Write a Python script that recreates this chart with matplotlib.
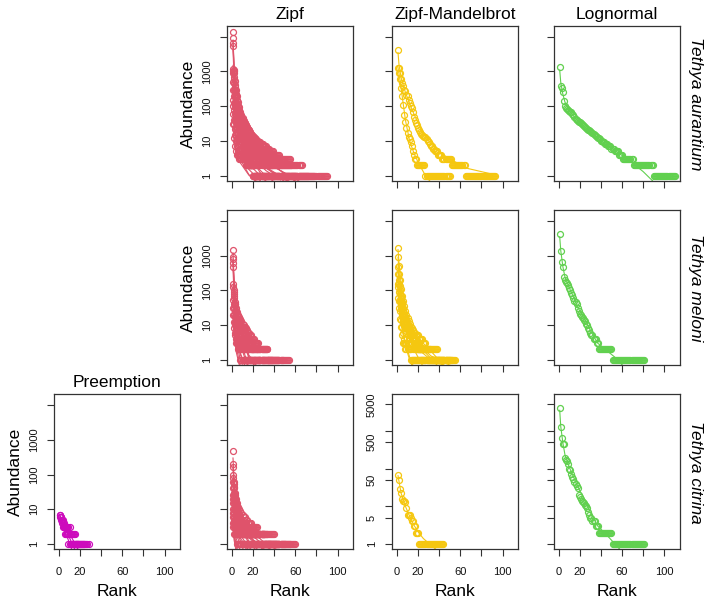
import numpy as np
import matplotlib
matplotlib.use("Agg")
import matplotlib.pyplot as plt
from matplotlib.ticker import NullLocator

plt.rcParams['font.family'] = ['Liberation Sans', 'DejaVu Sans']

# ---------------- data ----------------
MODELS = ["Preemption", "Zipf", "Zipf-Mandelbrot", "Lognormal"]
SPECIES = ["Tethya aurantium", "Tethya meloni", "Tethya citrina"]
COLORS = {"Preemption": "#CD0BBC", "Zipf": "#DF536B",
          "Zipf-Mandelbrot": "#F5C710", "Lognormal": "#61D04F"}

X_TICKS = [0, 20, 40, 60, 80, 100]
X_LABELS = ["0", "20", "", "60", "", "100"]
Y_TICKS_STD = [1, 10, 100, 1000, 10000]
Y_LABELS_STD = ["1", "10", "100", "1000", ""]
Y_TICKS_15 = [1, 5, 10, 50, 100, 500, 1000, 5000]
Y_LABELS_15 = ["1", "5", "", "50", "", "500", "", "5000"]

# Zipf - Tethya aurantium (observed abundances per sample, ranked)
ZIPF_AUR_OBS = [
    [13800, 1100, 520, 300, 190, 130, 95, 70, 55, 45, 38, 32, 28, 25, 22, 20, 18, 16, 15, 14, 13, 12, 11, 10, 10,
     9, 9, 8, 8, 7, 7, 7, 6, 6, 6, 5, 5, 5, 5, 4, 4, 4, 4, 4, 4, 3, 3, 3, 3, 3, 3, 3, 3, 3, 3] + [2] * 11 + [1] * 24,
    [9500, 900, 400, 220, 150, 100, 75, 58, 46, 38, 31, 26, 22, 19, 17, 15, 13, 12, 11, 10, 9, 8, 8, 7, 7, 6, 6,
     5, 5, 5, 4, 4, 4, 4, 3, 3, 3, 3, 3, 3, 3] + [2] * 15 + [1] * 22,
    [6800, 1000, 350, 180, 110, 75, 55, 42, 34, 28, 23, 19, 16, 14, 12, 11, 10, 9, 8, 7, 7, 6, 6, 5, 5, 5, 4, 4,
     4, 3, 3, 3, 3, 3] + [2] * 12 + [1] * 20,
    [5500, 700, 250, 130, 80, 55, 40, 30, 25, 20, 16, 13, 11, 10, 9, 8, 7, 6, 6, 5, 5, 4, 4, 4, 3, 3, 3, 3]
    + [2] * 10 + [1] * 18,
    [1200, 600, 300, 200, 140, 100, 80, 65, 52, 44, 37, 32, 28, 25, 22, 20, 18, 16, 14, 13, 12, 11, 10, 9, 9, 8,
     8, 7, 7, 6, 6, 6, 5, 5, 5, 4, 4, 4, 4, 3, 3, 3, 3, 3, 3] + [2] * 10 + [1] * 17,
    [1000, 450, 200, 120, 80, 60, 45, 36, 30, 25, 21, 18, 15, 13, 11, 10, 9, 8, 7, 6, 6, 5, 5, 5, 4, 4, 4, 3, 3,
     3, 3, 3] + [2] * 10 + [1] * 18,
    [900, 300, 120, 70, 45, 32, 25, 20, 16, 13, 11, 9, 8, 7, 6, 5, 5, 4, 4, 3, 3, 3, 3] + [2] * 8 + [1] * 23,
    [500, 200, 100, 60, 40, 28, 20, 15, 12, 10, 8, 7, 6, 5, 4, 4, 3, 3, 3] + [2] * 7 + [1] * 20,
    [300, 120, 60, 35, 24, 17, 13, 10, 8, 7, 6, 5, 4, 4, 3, 3] + [2] * 6 + [1] * 18,
    [150, 80, 40, 25, 18, 13, 10, 8, 6, 5, 4, 4, 3, 3, 3] + [2] * 6 + [1] * 13,
    [100, 40, 22, 15, 10, 8, 6, 5, 4, 4, 3, 3, 3, 3] + [2] * 6 + [1] * 10,
    [60, 30, 15, 10, 7, 5, 4, 4, 3, 3, 3, 3, 3] + [2] * 6 + [1] * 7,
    [30, 12, 7, 5, 4, 4, 3, 3, 3, 3, 3, 3] + [2] * 7 + [1] * 5,
]
ZIPF_AUR_FIT = [
    [(1, 8000), (2, 1624), (4, 330), (8, 67), (16, 13.6), (32, 2.76), (64, 0.56), (90, 0.26)],
    [(1, 7000), (2, 1326), (4, 251), (8, 47.5), (16, 9.0), (32, 1.7), (64, 0.32), (78, 0.2)],
    [(1, 5500), (2, 1197), (4, 260), (8, 56.7), (16, 12.3), (32, 2.68), (64, 0.58), (66, 0.54)],
    [(1, 4000), (2, 707), (4, 125), (8, 22), (16, 3.9), (32, 0.69), (56, 0.17)],
    [(1, 1500), (2, 416), (4, 115), (8, 32), (16, 8.9), (32, 2.46), (64, 0.68), (72, 0.55)],
    [(1, 1200), (2, 322), (4, 86), (8, 23), (16, 6.2), (32, 1.66), (60, 0.5)],
    [(1, 900), (2, 258), (4, 74), (8, 21.3), (16, 6.1), (32, 1.75), (54, 0.69)],
    [(1, 600), (2, 178), (4, 53), (8, 15.8), (16, 4.7), (32, 1.4), (46, 0.74)],
    [(1, 350), (2, 108), (4, 33), (8, 10.2), (16, 3.1), (32, 0.97), (40, 0.66)],
    [(1, 180), (2, 59), (4, 19.6), (8, 6.5), (16, 2.1), (32, 0.7), (34, 0.64)],
    [(1, 110), (2, 37.6), (4, 12.9), (8, 4.4), (16, 1.5), (30, 0.57)],
    [(1, 60), (2, 22), (4, 8.0), (8, 2.9), (16, 1.07), (26, 0.53)],
    [(1, 25), (2, 11.3), (4, 5.1), (8, 2.3), (16, 1.03), (24, 0.65)],
]

# Zipf - Tethya meloni
ZIPF_MEL_OBS = [
    [1420, 100, 45, 30, 24, 20, 17, 15, 13, 11, 10, 9, 8, 7, 6, 6, 5, 5, 4, 4, 4, 3, 3, 3, 3] + [2] * 8 + [1] * 21,
    [920, 80, 35, 22, 15, 12, 10, 8, 7, 6, 5, 5, 4, 4, 3, 3, 3] + [2] * 8 + [1] * 19,
    [470, 60, 25, 15, 10, 8, 6, 5, 4, 4, 3, 3, 3] + [2] * 7 + [1] * 18,
    [155, 40, 18, 10, 7, 5, 4, 3, 3, 3] + [2] * 6 + [1] * 14,
    [125, 30, 12, 8, 6, 4, 4, 3, 3] + [2] * 5 + [1] * 12,
    [52, 20, 10, 6, 4, 3, 3] + [2] * 4 + [1] * 11,
    [30, 12, 6, 4, 3, 3] + [2] * 3 + [1] * 9,
    [20, 8, 5, 3, 3, 2, 2] + [1] * 8,
    [600, 90, 40, 26, 18, 14, 11, 9, 8, 7, 6, 5, 5, 4, 4, 3, 3, 3] + [2] * 6 + [1] * 10,
    [800, 70, 40, 26, 20, 17, 14, 12, 10, 9, 8, 7, 6, 5, 5, 4, 4, 4, 3, 3, 3, 3, 3] + [2] * 10 + [1] * 15,
]
ZIPF_MEL_FIT = [
    [(1, 1200), (2, 212), (4, 37.5), (8, 6.6), (16, 1.17), (32, 0.21), (54, 0.056)],
    [(1, 800), (2, 132), (4, 21.8), (8, 3.6), (16, 0.59), (32, 0.098), (44, 0.043)],
    [(1, 400), (2, 76), (4, 14.3), (8, 2.7), (16, 0.51), (32, 0.097), (38, 0.064)],
    [(1, 150), (2, 32.6), (4, 7.1), (8, 1.55), (16, 0.34), (30, 0.084)],
    [(1, 110), (2, 25.7), (4, 6.0), (8, 1.4), (16, 0.33), (26, 0.12)],
    [(1, 50), (2, 13.4), (4, 3.6), (8, 0.96), (16, 0.26), (22, 0.14)],
    [(1, 28), (2, 8.0), (4, 2.3), (8, 0.66), (16, 0.19), (18, 0.15)],
    [(1, 18), (2, 5.5), (4, 1.7), (8, 0.52), (15, 0.18)],
    [(1, 700), (2, 142), (4, 29), (8, 5.8), (16, 1.18), (32, 0.24), (34, 0.21)],
    [(1, 700), (2, 147), (4, 31), (8, 6.5), (16, 1.37), (32, 0.29), (48, 0.12)],
]

# Zipf - Tethya citrina
ZIPF_CIT_OBS = [
    [470, 60, 30, 20, 15, 12, 10, 9, 8, 7, 6, 6, 5, 5, 4, 4, 4, 4, 3, 3, 3, 3, 3, 3] + [2] * 9 + [1] * 27,
    [165, 55, 25, 15, 10, 8, 6, 5, 5, 4, 4, 3, 3, 3, 3] + [2] * 15 + [1] * 20,
    [100, 40, 20, 12, 9, 7, 6, 5, 4, 4, 3, 3, 3, 3, 3, 3] + [2] * 14 + [1] * 15,
    [60, 30, 18, 12, 9, 7, 5, 4, 4, 3, 3, 3, 3] + [2] * 12 + [1] * 15,
    [40, 20, 12, 8, 6, 5, 4, 3, 3, 3, 3] + [2] * 12 + [1] * 13,
    [25, 15, 10, 7, 5, 4, 3, 3, 3] + [2] * 10 + [1] * 13,
    [20, 10, 7, 5, 4, 3, 3, 3] + [2] * 8 + [1] * 12,
    [15, 8, 5, 4, 3, 3] + [2] * 6 + [1] * 12,
    [10, 6, 4, 3, 3] + [2] * 6 + [1] * 9,
    [8, 5, 3, 3] + [2] * 5 + [1] * 7,
    [6, 4, 3] + [2] * 4 + [1] * 5,
    [4, 3, 2, 2, 2] + [1] * 5,
    [3, 2, 2, 2] + [1] * 4,
    [80, 25, 15, 10, 8, 6, 5, 4, 4, 3, 3, 3, 3, 3] + [2] * 14 + [1] * 14,
    [200, 45, 22, 14, 11, 9, 7, 6, 5, 5, 4, 4, 4, 3, 3, 3, 3, 3, 3, 3] + [2] * 20 + [1] * 15,
]
ZIPF_CIT_FIT = [
    [(1, 300), (2, 75), (4, 18.8), (8, 4.7), (16, 1.17), (32, 0.29), (60, 0.083)],
    [(1, 150), (2, 49.5), (4, 16.3), (8, 5.4), (16, 1.77), (32, 0.58), (50, 0.28)],
    [(1, 90), (2, 35.3), (4, 13.8), (8, 5.4), (16, 2.1), (32, 0.83), (45, 0.53)],
    [(1, 55), (2, 22.3), (4, 9.1), (8, 3.7), (16, 1.5), (32, 0.6), (40, 0.45)],
    [(1, 35), (2, 14.7), (4, 6.2), (8, 2.6), (16, 1.1), (32, 0.46), (36, 0.40)],
    [(1, 22), (2, 9.6), (4, 4.2), (8, 1.8), (16, 0.79), (32, 0.34)],
    [(1, 16), (2, 7.2), (4, 3.2), (8, 1.46), (16, 0.66), (28, 0.35)],
    [(1, 12), (2, 5.6), (4, 2.6), (8, 1.22), (16, 0.57), (24, 0.36)],
    [(1, 9), (2, 4.2), (4, 1.96), (8, 0.92), (16, 0.43), (20, 0.33)],
    [(1, 7), (2, 3.15), (4, 1.42), (8, 0.64), (16, 0.29)],
    [(1, 5.5), (2, 2.23), (4, 0.91), (8, 0.37), (12, 0.22)],
    [(1, 3.8), (2, 1.65), (4, 0.72), (8, 0.31), (10, 0.24)],
    [(1, 2.8), (2, 1.31), (4, 0.61), (8, 0.28)],
    [(1, 60), (2, 24.4), (4, 9.9), (8, 4.0), (16, 1.6), (32, 0.66), (42, 0.46)],
    [(1, 180), (2, 63.6), (4, 22.5), (8, 8.0), (16, 2.8), (32, 1.0), (55, 0.44)],
]

# Preemption - Tethya citrina
PRE_CIT_OBS = [
    [7, 6, 5, 5, 4, 3, 3, 3, 3, 3, 2, 2, 2, 2, 2] + [1] * 13,
    [6, 6, 5, 4, 3, 3, 3, 2, 2, 2, 2] + [1] * 13,
    [7, 5, 4, 3, 3, 2, 2, 2] + [1] * 10,
]
PRE_CIT_FIT = [
    [(1, 6.5), (28, 0.19)],
    [(1, 6.0), (24, 0.175)],
    [(1, 6.0), (18, 0.22)],
]

# Zipf-Mandelbrot - Tethya aurantium
ZM_AUR_OBS = [
    [4200, 1250, 900, 600, 450, 370, 300, 265, 210, 190, 150, 120, 98, 88, 70, 50, 40, 32, 28, 24, 21, 18, 16,
     15, 14, 13, 13, 11, 10, 9, 8, 7, 7, 6, 6, 5, 5, 5, 4, 4, 4, 4, 3, 3, 3, 3, 3, 3, 3, 3, 3] + [2] * 13 + [1] * 29,
    [1250, 900, 600, 330, 190, 110, 56, 35, 23, 17, 13, 11, 9, 7, 5, 4, 3, 3, 2, 2, 2, 2, 2, 2, 2, 2] + [1] * 24,
]
ZM_AUR_FIT = [
    [(1, 3500), (2, 1500), (4, 650), (8, 250), (12, 120), (16, 60), (24, 18), (32, 8.5), (40, 4.8), (50, 3.0),
     (67, 1.6), (93, 1.05)],
    [(1, 1300), (2, 850), (3, 540), (5, 190), (8, 40), (12, 10), (16, 4.5), (20, 2.4), (27, 1.0), (31, 0.7),
     (40, 0.35), (50, 0.2)],
]

# Zipf-Mandelbrot - Tethya meloni
ZM_MEL_OBS = [
    [1660, 500, 200, 110, 70, 50, 35, 25, 20, 16, 13, 11, 9, 8, 7, 6, 6, 5, 5, 5, 4, 4, 4, 4, 3, 3, 3]
    + [2] * 11 + [1] * 17,
    [920, 300, 130, 70, 45, 30, 22, 17, 13, 10, 8, 7, 6, 5, 5, 4, 4, 3, 3, 3, 3] + [2] * 10 + [1] * 19,
    [470, 200, 100, 60, 40, 28, 20, 15, 12, 10, 8, 7, 6, 5, 4, 4, 3, 3, 3] + [2] * 10 + [1] * 23,
    [155, 90, 50, 30, 20, 14, 10, 8, 6, 5, 4, 4, 3, 3] + [2] * 8 + [1] * 18,
    [125, 50, 25, 14, 9, 6, 4, 3, 3, 3] + [2] * 3 + [1] * 17,
    [300, 150, 80, 45, 30, 20, 15, 11, 9, 7, 6, 5, 5, 4, 4, 3, 3, 3] + [2] * 8 + [1] * 20,
    [60, 30, 15, 9, 5, 3, 3, 2, 2, 2, 2, 2] + [1] * 13,
]
ZM_MEL_FIT = [
    [(1, 1500), (2, 600), (4, 150), (8, 30), (16, 7), (24, 3.2), (32, 1.8), (44, 0.7), (55, 0.4)],
    [(1, 900), (2, 320), (4, 90), (8, 20), (16, 4.5), (24, 2.0), (32, 1.1), (38, 0.7), (50, 0.35)],
    [(1, 480), (2, 200), (4, 70), (8, 18), (16, 4.5), (24, 2.2), (32, 1.3), (50, 0.7), (52, 0.65)],
    [(1, 170), (2, 80), (4, 30), (8, 8), (16, 2), (24, 0.7), (40, 0.25)],
    [(1, 120), (2, 50), (4, 14), (8, 3), (12, 1.2), (16, 0.6), (30, 0.15)],
    [(1, 330), (2, 140), (4, 50), (8, 13), (16, 3.5), (24, 1.6), (32, 1.0), (44, 0.7), (46, 0.66)],
    [(1, 60), (2, 28), (4, 10), (8, 2.5), (12, 1.0), (16, 0.5), (25, 0.2)],
]

# Zipf-Mandelbrot - Tethya citrina
ZM_CIT_OBS = [
    [68, 51, 29, 22, 16, 14, 14, 13, 9, 6, 6, 6, 5, 4, 4, 3, 3, 2, 2, 2] + [1] * 24,
]
ZM_CIT_FIT = [
    [(1, 65), (2, 45), (4, 22), (8, 10), (12, 5.5), (16, 3.2), (20, 2.1), (25, 1.4), (31, 1.0), (37, 0.72),
     (44, 0.5)],
]

# Lognormal
LN_AUR_OBS = [
    [1330, 380, 340, 260, 140, 98, 90, 82, 78, 74, 70, 66, 60, 56, 50, 42, 40, 37, 35, 34, 32, 30, 28, 27, 25,
     23, 22, 21, 20, 19, 18, 17, 16, 15, 14, 13, 12, 12, 11, 10, 10, 9, 9, 8, 8, 8, 7, 7, 7, 6, 6, 6, 5, 5, 5, 5,
     4, 4, 4, 4] + [3] * 10 + [2] * 19 + [1] * 21,
]
LN_AUR_FIT = [
    [(1, 1100), (2, 480), (4, 220), (6, 130), (10, 75), (15, 48), (20, 33), (30, 18), (40, 10), (50, 6.2),
     (60, 3.8), (70, 2.3), (80, 1.3), (89, 0.7), (100, 0.35), (110, 0.18)],
]
LN_MEL_OBS = [
    [4300, 1360, 660, 470, 250, 195, 175, 160, 140, 120, 100, 85, 72, 60, 51, 45, 41, 32, 26, 21, 19, 17, 16,
     14, 13, 11, 10, 8, 7, 6, 5, 5, 4, 4, 4, 3, 3] + [2] * 13 + [1] * 31,
]
LN_MEL_FIT = [
    [(1, 3500), (2, 1400), (4, 480), (6, 240), (10, 120), (15, 55), (20, 25), (25, 14), (30, 7), (37, 3.0),
     (45, 1.9), (53, 1.2), (60, 0.72), (70, 0.35), (81, 0.15)],
]
LN_CIT_OBS = [
    [4100, 1280, 630, 460, 450, 195, 174, 160, 135, 96, 90, 71, 60, 52, 44, 40, 35, 31, 20, 18, 16, 14, 13, 12,
     11, 10, 9, 7, 6, 5, 5, 4, 4, 4, 3, 3, 3] + [2] * 13 + [1] * 31,
]
LN_CIT_FIT = [
    [(1, 3500), (2, 1300), (4, 480), (6, 230), (10, 110), (15, 52), (20, 26), (25, 14), (30, 7), (37, 3.0),
     (45, 1.8), (52, 1.1), (58, 0.72), (70, 0.3), (81, 0.13)],
]

# (row, col) -> (observations, fits, model, y-scale kind)
PANELS = {
    (0, 1): (ZIPF_AUR_OBS, ZIPF_AUR_FIT, "Zipf", "std"),
    (0, 2): (ZM_AUR_OBS, ZM_AUR_FIT, "Zipf-Mandelbrot", "std"),
    (0, 3): (LN_AUR_OBS, LN_AUR_FIT, "Lognormal", "std"),
    (1, 1): (ZIPF_MEL_OBS, ZIPF_MEL_FIT, "Zipf", "std"),
    (1, 2): (ZM_MEL_OBS, ZM_MEL_FIT, "Zipf-Mandelbrot", "std"),
    (1, 3): (LN_MEL_OBS, LN_MEL_FIT, "Lognormal", "std"),
    (2, 0): (PRE_CIT_OBS, PRE_CIT_FIT, "Preemption", "std"),
    (2, 1): (ZIPF_CIT_OBS, ZIPF_CIT_FIT, "Zipf", "std"),
    (2, 2): (ZM_CIT_OBS, ZM_CIT_FIT, "Zipf-Mandelbrot", "c15"),
    (2, 3): (LN_CIT_OBS, LN_CIT_FIT, "Lognormal", "c15"),
}
Y_LABELED = {(0, 1), (1, 1), (2, 0), (2, 2)}
YLAB_PANELS = {(0, 1), (1, 1), (2, 0)}

# ---------------- layout ----------------
W, H = 712, 608
fig = plt.figure(figsize=(W / 100, H / 100), dpi=100)
COL_LEFT = [54.3, 227.3, 392.3, 554.0]
ROW_TOP = [26.0, 210.2, 394.4]
PW, PH = 125.5, 155.0
AX_COL = "#333333"

for (r, c), (obs_list, fit_list, model, kind) in PANELS.items():
    left, top = COL_LEFT[c], ROW_TOP[r]
    ax = fig.add_axes([left / W, 1 - (top + PH) / H, PW / W, PH / H])
    col = COLORS[model]
    for obs, fit in zip(obs_list, fit_list):
        fr = [p[0] for p in fit]
        fv = [p[1] for p in fit]
        ax.plot(fr, fv, "-", color=col, lw=0.8, zorder=2)
        ranks = np.arange(1, len(obs) + 1)
        ax.plot(ranks, obs, "o", mfc="none", mec=col, ms=4.3, mew=0.9, zorder=3)
    ax.set_yscale("log")
    ax.set_xlim(-4.4, 114.4)
    if kind == "std":
        ax.set_ylim(10 ** -0.157, 10 ** 4.31)
        yt, yl = Y_TICKS_STD, Y_LABELS_STD
    else:
        ax.set_ylim(10 ** -0.142, 10 ** 3.966)
        yt, yl = Y_TICKS_15, Y_LABELS_15
    ax.set_yticks(yt)
    ax.yaxis.set_minor_locator(NullLocator())
    ax.set_xticks(X_TICKS)
    for s in ax.spines.values():
        s.set_color(AX_COL)
        s.set_linewidth(0.9)
    ax.tick_params(direction="out", length=5, width=0.8, color=AX_COL,
                   labelsize=8, labelcolor="#111111")
    ax.tick_params(axis="x", pad=7.5)
    ax.tick_params(axis="y", pad=6)
    if (r, c) in Y_LABELED:
        ax.set_yticklabels(yl, rotation=90, va="center")
    else:
        ax.set_yticklabels([])
    if r == 2:
        ax.set_xticklabels(X_LABELS)
        ax.set_xlabel("Rank", fontsize=12.5, labelpad=5)
    else:
        ax.set_xticklabels([])
    if (r, c) in YLAB_PANELS:
        ax.set_ylabel("Abundance", fontsize=12.5, labelpad=4)

# column titles
for c, name in [(1, "Zipf"), (2, "Zipf-Mandelbrot"), (3, "Lognormal")]:
    fig.text((COL_LEFT[c] + PW / 2) / W, 1 - 18.5 / H, name, ha="center", va="baseline", fontsize=12.5)
fig.text((COL_LEFT[0] + PW / 2) / W, 1 - (ROW_TOP[2] - 7.7) / H, "Preemption",
         ha="center", va="baseline", fontsize=12.5)

# row (species) labels on the right
for r, sp in enumerate(SPECIES):
    fig.text(695.5 / W, 1 - (ROW_TOP[r] + PH / 2) / H, sp, rotation=-90, style="italic",
             ha="center", va="center", fontsize=12.5)

fig.savefig("out.png", dpi=100)
